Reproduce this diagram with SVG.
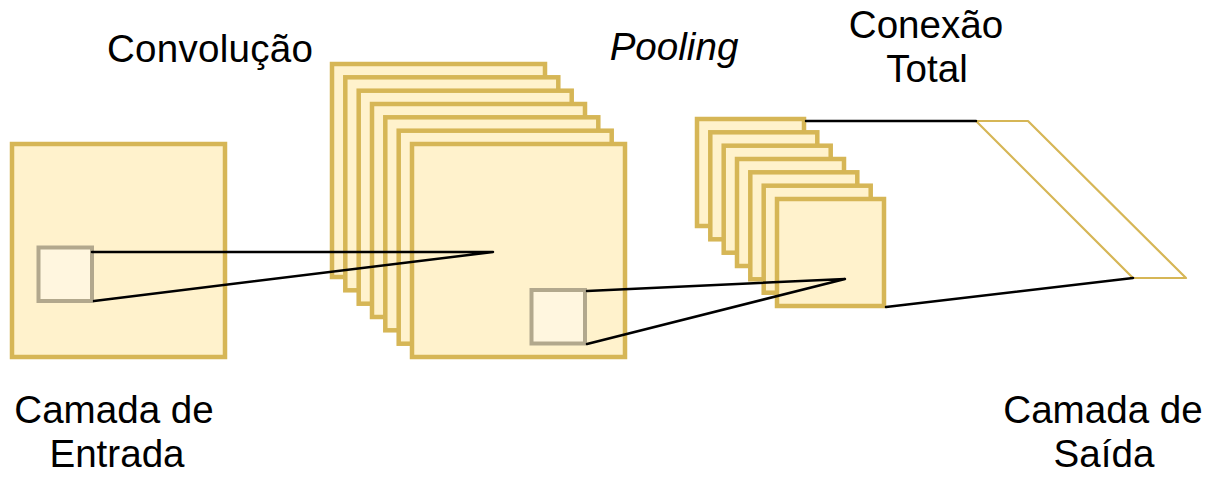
<svg xmlns="http://www.w3.org/2000/svg" width="1212" height="478" viewBox="0 0 1212 478">
  <style>
    .map { fill: #fff2cc; stroke: #d6b656; stroke-width: 4.5; }
    .win { fill: #fff6df; stroke: #b2a88d; stroke-width: 4; }
    .link { fill: none; stroke: #000; stroke-width: 2.5; stroke-linecap: round; stroke-linejoin: round; }
    .dense { fill: none; stroke: #d6b656; stroke-width: 2.2; stroke-linejoin: round; }
    .label { font-family: "Liberation Sans", Arial, sans-serif; font-size: 38.6px; fill: #000; text-anchor: middle; }
  </style>

  <!-- input layer -->
  <g id="input-layer">
    <rect class="map" x="12" y="144" width="213" height="213"/>
    <rect class="win" x="38.5" y="247.5" width="53.5" height="53.5"/>
  </g>

  <!-- convolution feature maps -->
  <g id="conv-layer">
    <rect class="map" x="332" y="64" width="213" height="213"/>
    <rect class="map" x="345.3" y="77.3" width="213" height="213"/>
    <rect class="map" x="358.7" y="90.7" width="213" height="213"/>
    <rect class="map" x="372" y="104" width="213" height="213"/>
    <rect class="map" x="385.3" y="117.3" width="213" height="213"/>
    <rect class="map" x="398.7" y="130.7" width="213" height="213"/>
    <rect class="map" x="412" y="144" width="213" height="213"/>
    <rect class="win" x="531.5" y="290" width="53.5" height="53.5"/>
  </g>

  <!-- pooling feature maps -->
  <g id="pool-layer">
    <rect class="map" x="697" y="119" width="107" height="107"/>
    <rect class="map" x="710.3" y="132.3" width="107" height="107"/>
    <rect class="map" x="723.7" y="145.7" width="107" height="107"/>
    <rect class="map" x="737" y="159" width="107" height="107"/>
    <rect class="map" x="750.3" y="172.3" width="107" height="107"/>
    <rect class="map" x="763.7" y="185.7" width="107" height="107"/>
    <rect class="map" x="777" y="199" width="107" height="107"/>
  </g>

  <!-- fully connected output layer -->
  <g id="output-layer">
    <polygon class="dense" points="976,121 1028,121 1186,278 1133,278"/>
  </g>

  <!-- receptive field connectors -->
  <g id="connectors">
    <polyline class="link" points="92,252 493,252 94,301"/>
    <polyline class="link" points="587,291 845,279 587,344"/>
    <line class="link" x1="806" y1="121" x2="976" y2="121"/>
    <line class="link" x1="886" y1="307" x2="1133" y2="278"/>
  </g>

  <!-- labels -->
  <g id="labels">
    <text class="label" x="210" y="62" textLength="206">Convolução</text>
    <text class="label" x="674" y="60" font-style="italic">Pooling</text>
    <text class="label" x="926" y="38">Conexão</text>
    <text class="label" x="927" y="82">Total</text>
    <text class="label" x="114" y="423">Camada de</text>
    <text class="label" x="117" y="467">Entrada</text>
    <text class="label" x="1103" y="423">Camada de</text>
    <text class="label" x="1104" y="467">Saída</text>
  </g>
</svg>
